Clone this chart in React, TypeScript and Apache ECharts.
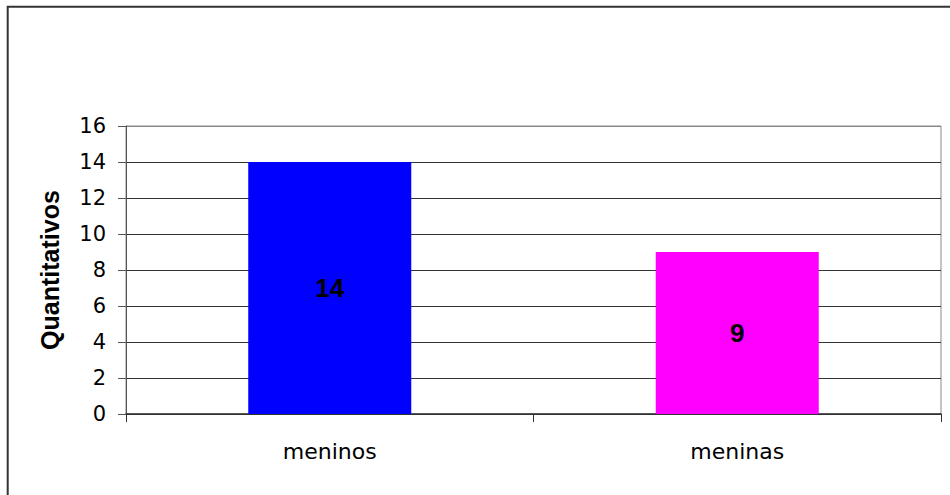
import React, { useEffect, useRef } from "react";
import * as echarts from "echarts";

const categories = ["meninos", "meninas"];
const values = [14, 9];
const barColors = ["#0000FF", "#FF00FF"];
const yTitle = "Quantitativos";

export default function App() {
  const ref = useRef<HTMLDivElement>(null);
  useEffect(() => {
    if (!ref.current) return;
    const chart = echarts.init(ref.current, null, { renderer: "svg" });
    const font = "'Liberation Sans', Arial, sans-serif";
    const wide = "'DejaVu Sans', 'Liberation Sans', Arial, sans-serif";
    chart.setOption({
      animation: false,
      backgroundColor: "#ffffff",
      textStyle: { fontFamily: font },
      graphic: [
        {
          type: "rect",
          shape: { x: 7.7, y: 6.8, width: 3000, height: 3000 },
          style: { fill: "none", stroke: "#333333", lineWidth: 2 },
          silent: true,
        },
      ],
      grid: {
        left: 126,
        right: 9,
        top: 126,
        bottom: 81,
        show: true,
        borderColor: "#888888",
        borderWidth: 1,
        backgroundColor: "transparent",
      },
      xAxis: {
        type: "category",
        data: categories,
        boundaryGap: true,
        axisLine: { lineStyle: { color: "#333333", width: 1.5 } },
        axisTick: { show: true, length: 8, lineStyle: { color: "#333333" } },
        axisLabel: { color: "#000", fontSize: 22, margin: 26, fontFamily: wide },
      },
      yAxis: {
        type: "value",
        min: 0,
        max: 16,
        interval: 2,
        name: yTitle,
        nameLocation: "middle",
        nameGap: 64,
        nameTextStyle: { fontSize: 25, fontWeight: "bold", color: "#000", fontFamily: font },
        axisLine: { show: true, lineStyle: { color: "#555555" } },
        axisTick: { show: true, length: 8, lineStyle: { color: "#555555" } },
        axisLabel: { color: "#000", fontSize: 21, margin: 20, fontFamily: wide },
        splitLine: {
          show: true,
          lineStyle: {
            color: ["#333333", "#333333", "#333333", "#333333", "#333333", "#333333", "#333333", "#333333", "#888888"],
            width: 1,
          },
        },
      },
      series: [
        {
          type: "bar",
          barWidth: "40%",
          data: values.map((v, i) => ({ value: v, itemStyle: { color: barColors[i] } })),
          label: {
            show: true,
            position: "inside",
            color: "#000",
            fontSize: 26,
            fontWeight: "bold",
            fontFamily: font,
          },
        },
      ],
    });
    return () => chart.dispose();
  }, []);
  return (
    <div
      ref={ref}
      style={{ position: "absolute", left: 0, top: 0, width: 950, height: 495 }}
    />
  );
}
